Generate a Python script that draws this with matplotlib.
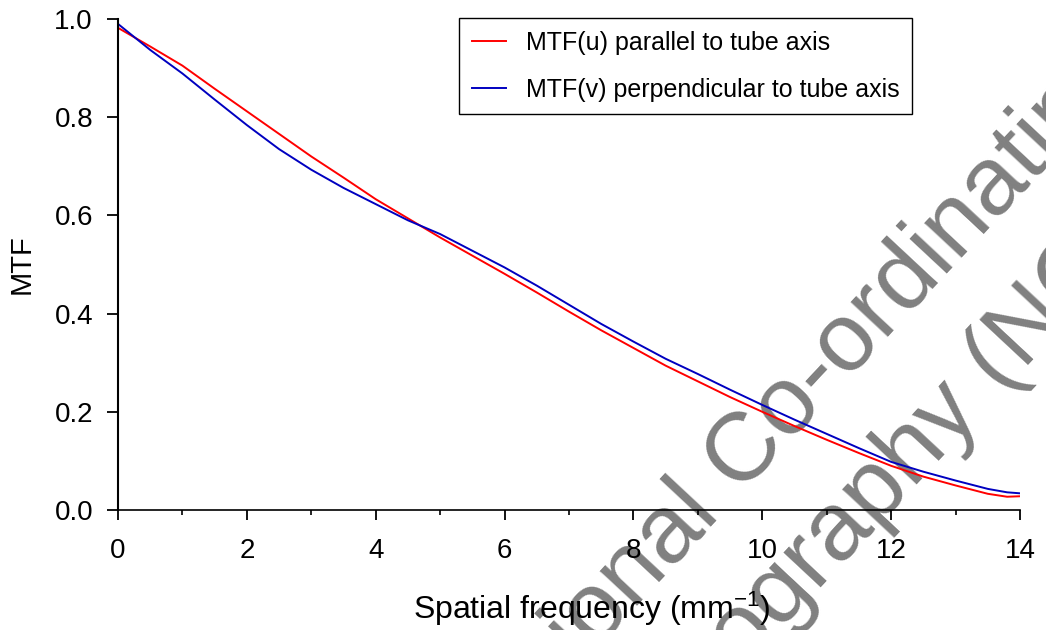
import matplotlib
matplotlib.use("Agg")
import matplotlib.pyplot as plt
from matplotlib.ticker import MultipleLocator, FormatStrFormatter

# Data
freq = [0, 0.5, 1, 1.5, 2, 2.5, 3, 3.5, 4, 4.5, 5, 5.5, 6, 6.5, 7, 7.5, 8, 8.5,
        9, 9.5, 10, 10.5, 11, 11.5, 12, 12.5, 13, 13.5, 13.8, 14]
mtf_u = [0.982, 0.944, 0.905, 0.858, 0.812, 0.766, 0.720, 0.677, 0.633, 0.594,
         0.555, 0.518, 0.481, 0.443, 0.404, 0.366, 0.330, 0.294, 0.262, 0.230,
         0.200, 0.171, 0.143, 0.116, 0.090, 0.068, 0.050, 0.033, 0.027, 0.028]
mtf_v = [0.990, 0.937, 0.889, 0.836, 0.784, 0.735, 0.693, 0.656, 0.623, 0.590,
         0.562, 0.528, 0.494, 0.457, 0.418, 0.379, 0.343, 0.308, 0.277, 0.245,
         0.214, 0.184, 0.155, 0.126, 0.098, 0.078, 0.060, 0.043, 0.036, 0.034]

label_u = "MTF(u) parallel to tube axis"
label_v = "MTF(v) perpendicular to tube axis"
xlabel = "Spatial frequency (mm$^{-1}$)"
ylabel = "MTF"
watermark_1 = "National Co-ordinating Centre"
watermark_2 = "Mammography (NCCPM)"

plt.rcParams['font.family'] = ['Liberation Sans', 'DejaVu Sans']
plt.rcParams['mathtext.fontset'] = 'custom'
plt.rcParams['mathtext.rm'] = 'Liberation Sans'
plt.rcParams['mathtext.it'] = 'Liberation Sans'

W, H = 1046, 630
fig = plt.figure(figsize=(W / 100, H / 100), dpi=100)
ax = fig.add_axes([118 / W, 1 - 510 / H, (1020 - 118) / W, (510 - 19) / H])
ax.patch.set_alpha(0)

# watermark (under the axes)
wm = dict(fontsize=70, color='#808080', rotation=47, rotation_mode='anchor',
          ha='left', va='baseline', zorder=-5)
fig.text(478 / W, 1 - 776 / H, watermark_1, **wm)
fig.text(540 / W, 1 - 888 / H, watermark_2, **wm)

ax.plot(freq, mtf_u, color='#ff0000', lw=1.4, label=label_u)
ax.plot(freq, mtf_v, color='#0000c0', lw=1.4, label=label_v)

ax.set_xlim(0, 14)
ax.set_ylim(0, 1.0)
ax.xaxis.set_major_locator(MultipleLocator(2))
ax.xaxis.set_minor_locator(MultipleLocator(1))
ax.yaxis.set_major_locator(MultipleLocator(0.2))
ax.yaxis.set_major_formatter(FormatStrFormatter('%.1f'))

for s in ['top', 'right']:
    ax.spines[s].set_visible(False)
ax.spines['left'].set_linewidth(1.5)
ax.spines['bottom'].set_linewidth(1.2)

ax.tick_params(axis='x', which='major', direction='out', length=7.5, width=1.3,
               labelsize=20, pad=13)
ax.tick_params(axis='x', which='minor', direction='out', length=3.8, width=1.2)
ax.tick_params(axis='y', which='major', direction='out', length=8, width=1.3,
               labelsize=20, pad=10)

ax.set_xlabel(xlabel, fontsize=23)
ax.xaxis.set_label_coords((592 - 118) / 902, -0.163)
ax.set_ylabel(ylabel, fontsize=21)
ax.yaxis.set_label_coords(-0.091, 0.5)

leg = ax.legend(loc='upper right', bbox_to_anchor=((912 - 118) / 902, 1.002),
                fontsize=18, frameon=True, fancybox=False, shadow=False,
                borderaxespad=0, handlelength=1.36, handletextpad=0.8,
                labelspacing=0.92, borderpad=0.5)
leg.get_frame().set_edgecolor('black')
leg.get_frame().set_linewidth(1.0)
leg.get_frame().set_alpha(1)

fig.savefig('out.png', dpi=100)
